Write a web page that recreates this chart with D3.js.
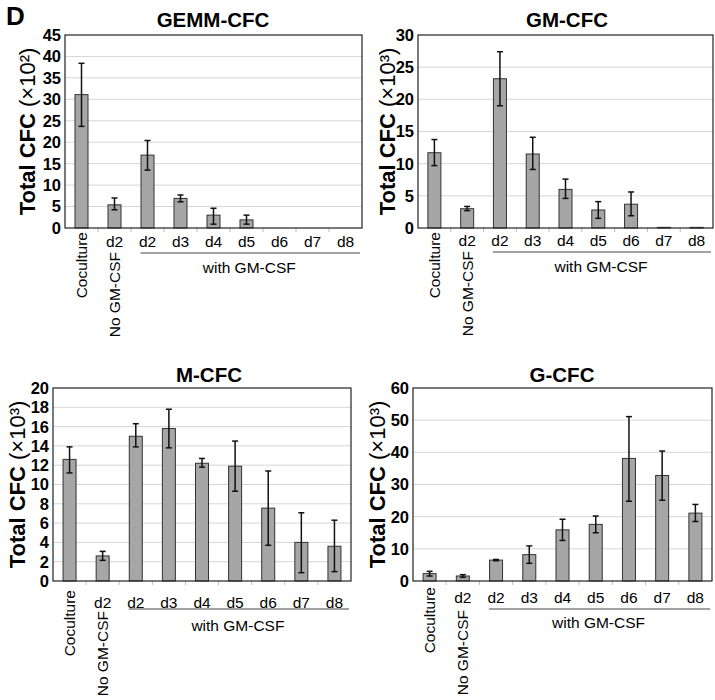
<!DOCTYPE html>
<html>
<head>
<meta charset="utf-8">
<script src="https://cdn.jsdelivr.net/npm/d3@7"></script>
<style>
  body { margin: 0; background: #fff; }
  svg { font-family: "Liberation Sans", Arial, Helvetica, sans-serif; }
</style>
</head>
<body>
<svg width="715" height="700"></svg>
<script>
// categories (index based, "d2" appears twice)
var tickLabels = ["", "d2", "d2", "d3", "d4", "d5", "d6", "d7", "d8"];
var rotLabels = ["Coculture", "No GM-CSF"];
var groupLabel = "with GM-CSF";

// GEMM-CFC (x10^2)
var gemmMean = [31.1, 5.4, 17.0, 6.9, 3.0, 1.9, 0, 0, 0];
var gemmLow  = [23.7, 4.25, 13.5, 6.1, 0.9, 0.9, 0, 0, 0];
var gemmHigh = [38.4, 7.0, 20.4, 7.7, 4.6, 3.0, 0, 0, 0];
var gemmTicks = d3.range(0, 46, 5);

// GM-CFC (x10^3)
var gmMean = [11.7, 3.0, 23.2, 11.5, 6.0, 2.8, 3.7, 0.1, 0.1];
var gmLow  = [9.7, 2.7, 19.0, 9.1, 4.6, 1.5, 1.9, 0.1, 0.1];
var gmHigh = [13.75, 3.35, 27.4, 14.1, 7.6, 4.1, 5.6, 0.1, 0.1];
var gmTicks = d3.range(0, 31, 5);

// M-CFC (x10^3)
var mMean = [12.6, 2.6, 15.0, 15.8, 12.2, 11.9, 7.55, 4.0, 3.6];
var mLow  = [11.2, 2.14, 13.9, 13.8, 11.8, 9.3, 3.7, 0.86, 0.97];
var mHigh = [13.9, 3.07, 16.3, 17.8, 12.7, 14.5, 11.4, 7.07, 6.3];
var mTicks = d3.range(0, 21, 2);

// G-CFC (x10^3)
var gMean = [2.3, 1.55, 6.5, 8.2, 15.9, 17.6, 38.1, 32.8, 21.1];
var gLow  = [1.55, 1.14, 6.3, 5.5, 12.6, 15.0, 24.8, 25.1, 18.5];
var gHigh = [3.0, 1.97, 6.7, 10.9, 19.2, 20.2, 51.1, 40.4, 23.8];
var gTicks = d3.range(0, 61, 10);

var svg = d3.select("svg");

svg.append("text")
    .attr("x", 6).attr("y", 25)
    .style("font-size", "26px").style("font-weight", "bold")
    .text("D");

// dRot: start of rotated labels below the axis (Coculture, No GM-CSF)
var panels = [
  {title: "GEMM-CFC", exp: "\u00b2", mean: gemmMean, low: gemmLow, high: gemmHigh, ticks: gemmTicks,
   left: 65, top: 35, right: 362, bottom: 228, titleX: 213, titleY: 27, labX: 27,
   dLab: 18.5, dRot: [4, 24], dLine: 25, dGroup: 45},
  {title: "GM-CFC", exp: "\u00b3", mean: gmMean, low: gmLow, high: gmHigh, ticks: gmTicks,
   left: 418, top: 35, right: 713, bottom: 228, titleX: 567, titleY: 27, labX: 387,
   dLab: 18, dRot: [4, 23], dLine: 24, dGroup: 44},
  {title: "M-CFC", exp: "\u00b3", mean: mMean, low: mLow, high: mHigh, ticks: mTicks,
   left: 53, top: 388, right: 351, bottom: 581, titleX: 209, titleY: 382, labX: 17,
   dLab: 27, dRot: [9, 30], dLine: 28, dGroup: 50},
  {title: "G-CFC", exp: "\u00b3", mean: gMean, low: gLow, high: gHigh, ticks: gTicks,
   left: 413, top: 388, right: 712, bottom: 581, titleX: 562, titleY: 382, labX: 377,
   dLab: 21.5, dRot: [6, 29], dLine: 28, dGroup: 47}
];

panels.forEach(drawPanel);

function drawPanel(p) {
  var n = p.mean.length;
  var x = d3.scaleBand().domain(d3.range(n)).range([p.left, p.right]).padding(0);
  var y = d3.scaleLinear().domain([0, d3.max(p.ticks)]).range([p.bottom, p.top]);
  var bw = 13;
  var g = svg.append("g");

  // grid
  g.selectAll(".grid").data(p.ticks.slice(1, -1)).enter().append("line")
      .attr("x1", p.left).attr("x2", p.right)
      .attr("y1", function(d) { return y(d); })
      .attr("y2", function(d) { return y(d); })
      .style("stroke", "#d6d6d6").style("stroke-width", 1);

  // small x ticks at band edges
  g.selectAll(".xt").data(d3.range(1, n)).enter().append("line")
      .attr("x1", function(i) { return x(i); })
      .attr("x2", function(i) { return x(i); })
      .attr("y1", p.bottom).attr("y2", p.bottom + 4)
      .style("stroke", "#bbb");

  // bars
  g.selectAll(".bar").data(p.mean).enter().append("rect")
      .attr("x", function(d, i) { return x(i) + x.bandwidth() / 2 - bw / 2; })
      .attr("y", function(d) { return y(d); })
      .attr("width", bw)
      .attr("height", function(d) { return p.bottom - y(d); })
      .style("fill", "#a6a6a6").style("stroke", "#333").style("stroke-width", 1);

  // error bars
  var eb = g.selectAll(".err").data(p.mean.map(function(d, i) { return i; })
      .filter(function(i) { return p.high[i] > p.low[i]; }))
    .enter().append("g");
  eb.append("line")
      .attr("x1", function(i) { return x(i) + x.bandwidth() / 2; })
      .attr("x2", function(i) { return x(i) + x.bandwidth() / 2; })
      .attr("y1", function(i) { return y(p.low[i]); })
      .attr("y2", function(i) { return y(p.high[i]); })
      .style("stroke", "#111").style("stroke-width", 1.5);
  [p.low, p.high].forEach(function(arr) {
    eb.append("line")
        .attr("x1", function(i) { return x(i) + x.bandwidth() / 2 - 3; })
        .attr("x2", function(i) { return x(i) + x.bandwidth() / 2 + 3; })
        .attr("y1", function(i) { return y(arr[i]); })
        .attr("y2", function(i) { return y(arr[i]); })
        .style("stroke", "#111").style("stroke-width", 1.5);
  });

  // frame
  g.append("rect")
      .attr("x", p.left).attr("y", p.top)
      .attr("width", p.right - p.left).attr("height", p.bottom - p.top)
      .style("fill", "none").style("stroke", "#222").style("stroke-width", 1.2);

  // y tick labels
  g.selectAll(".yl").data(p.ticks).enter().append("text")
      .attr("x", p.left - 4)
      .attr("y", function(d) { return y(d); })
      .attr("dy", "0.36em")
      .attr("text-anchor", "end")
      .style("font-size", "16.5px").style("font-weight", "bold")
      .text(function(d) { return d; });

  // title
  g.append("text")
      .attr("x", p.titleX).attr("y", p.titleY)
      .attr("text-anchor", "middle")
      .style("font-size", "20.5px").style("font-weight", "bold")
      .text(p.title);

  // y axis label
  var yl = g.append("text")
      .attr("transform", "translate(" + p.labX + "," + ((p.top + p.bottom) / 2) + ") rotate(-90)")
      .attr("text-anchor", "middle")
      .attr("dy", "0.36em")
      .style("font-size", "22px");
  yl.append("tspan").style("font-weight", "bold").text("Total CFC ");
  yl.append("tspan").text("(\u00d710" + p.exp + ")");

  // horizontal category labels
  g.selectAll(".xl").data(d3.range(1, n)).enter().append("text")
      .attr("x", function(i) { return x(i) + x.bandwidth() / 2; })
      .attr("y", p.bottom + p.dLab)
      .attr("text-anchor", "middle")
      .style("font-size", "15.5px")
      .text(function(i) { return tickLabels[i]; });

  // rotated labels
  g.selectAll(".rl").data(rotLabels).enter().append("text")
      .attr("transform", function(d, i) {
        return "translate(" + (x(i) + x.bandwidth() / 2) + "," + (p.bottom + p.dRot[i]) + ") rotate(-90)";
      })
      .attr("dy", "0.36em")
      .attr("text-anchor", "end")
      .style("font-size", "15.5px")
      .text(function(d) { return d; });

  // group bracket
  var gx0 = x(2) + x.bandwidth() / 2 - 7;
  g.append("line")
      .attr("x1", gx0).attr("x2", p.right - 2)
      .attr("y1", p.bottom + p.dLine).attr("y2", p.bottom + p.dLine)
      .style("stroke", "#444").style("stroke-width", 1);
  g.append("text")
      .attr("x", (gx0 + p.right) / 2 - 2)
      .attr("y", p.bottom + p.dGroup)
      .attr("text-anchor", "middle")
      .style("font-size", "15.5px")
      .text(groupLabel);
}
</script>
</body>
</html>
